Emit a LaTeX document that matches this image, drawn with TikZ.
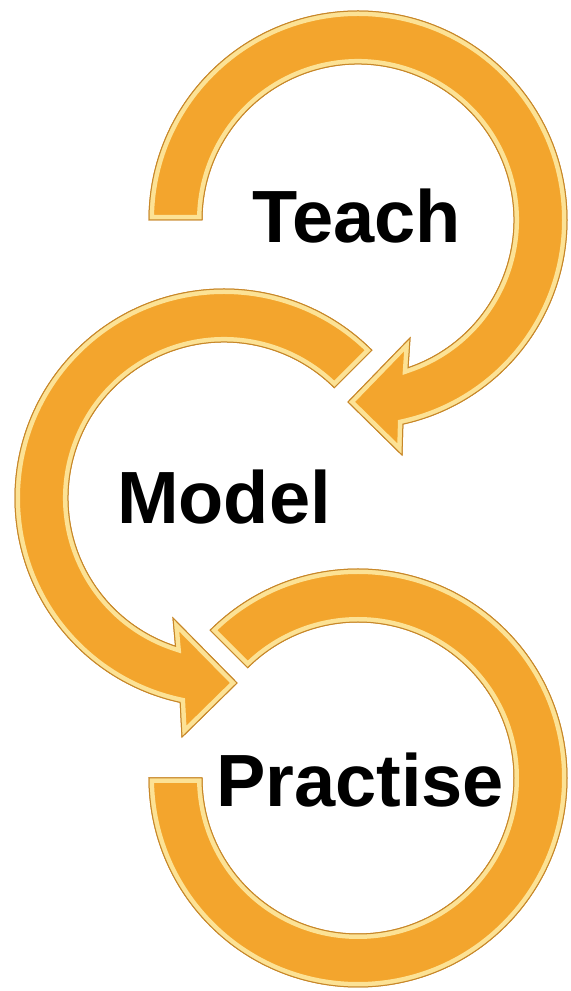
\documentclass[tikz,border=0pt]{standalone}
\usepackage{fontspec}
\setmainfont{Liberation Sans}
\usetikzlibrary{calc, shadows}
\definecolor{ringgold}{RGB}{243,165,45}
\definecolor{ringlight}{RGB}{255,242,175}
\definecolor{ringedge}{RGB}{200,135,40}

\begin{document}
\begin{tikzpicture}[x=0.5pt, y=0.5pt,
  ring/.style={fill=ringgold, draw=ringedge, line width=0.5pt,
    drop shadow={opacity=0.3, shadow xshift=1.2pt, shadow yshift=-1.2pt}},
  rim/.style={draw=ringlight, line width=5pt, opacity=0.8},
  steplabel/.style={font=\fontsize{37}{40}\selectfont\bfseries, text=black}]
\useasboundingbox (0,0) rectangle (570,991);

% Centres of the three rings
\coordinate (tc) at (358,771);
\coordinate (mc) at (224,493);
\coordinate (pc) at (358,213);

% Teach arrow
\path[save path=\teachring] (tc) ++(180:209) arc[start angle=180, end angle=-77.6, radius=209]
  -- (402,536) -- (348,589) -- (410,653)
  -- ($(tc)+(-71.3:156)$) arc[start angle=-71.3, end angle=180, radius=156] -- cycle;
\fill[ring, use path=\teachring];
\begin{scope}
\clip[use path=\teachring];
\path[rim, use path=\teachring];
\end{scope}
\draw[draw=ringedge, line width=0.5pt, use path=\teachring];

% Model arrow
\path[save path=\modelring] (mc) ++(45:209) arc[start angle=45, end angle=257.9, radius=209]
  -- (182,254) -- (237,308) -- (173,373)
  -- ($(mc)+(251.9:156)$) arc[start angle=251.9, end angle=45, radius=156] -- cycle;
\fill[ring, use path=\modelring];
\begin{scope}
\clip[use path=\modelring];
\path[rim, use path=\modelring];
\end{scope}
\draw[draw=ringedge, line width=0.5pt, use path=\modelring];

% Practise ring
\path[save path=\practisering] (pc) ++(135:209) arc[start angle=135, end angle=-180, radius=209]
  -- ($(pc)+(-180:156)$) arc[start angle=-180, end angle=135, radius=156] -- cycle;
\fill[ring, use path=\practisering];
\begin{scope}
\clip[use path=\practisering];
\path[rim, use path=\practisering];
\end{scope}
\draw[draw=ringedge, line width=0.5pt, use path=\practisering];

% Labels
\node[steplabel] (teach) at (357,775) {Teach};
\node[steplabel] (model) at (224,494) {Model};
\node[steplabel] (practise) at (360,211) {Practise};
\end{tikzpicture}
\end{document}
